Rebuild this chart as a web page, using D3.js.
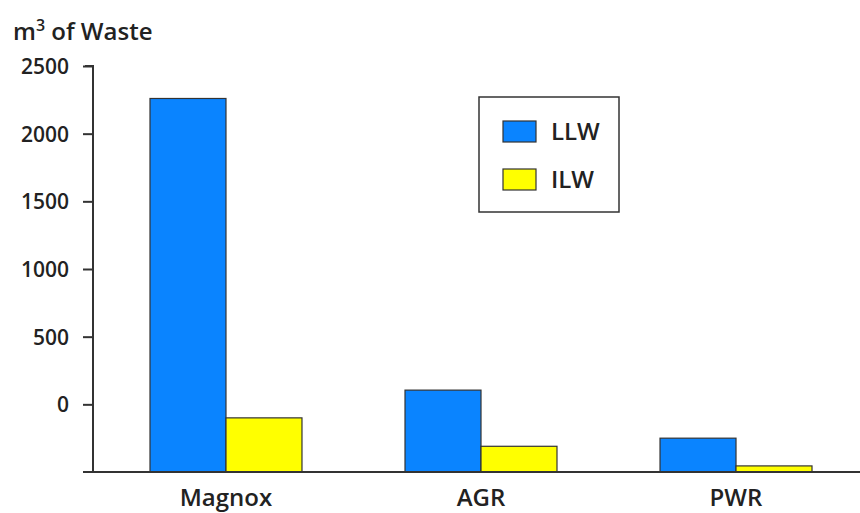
<!DOCTYPE html>
<html>
<head>
<meta charset="utf-8">
<script src="https://cdn.jsdelivr.net/npm/d3@7/dist/d3.min.js"></script>
<style>
  html, body { margin: 0; padding: 0; background: #fff; }
  svg { display: block; font-family: "Open Sans", "Noto Sans", sans-serif; }
</style>
</head>
<body>
<svg id="chart" width="860" height="513"></svg>
<script>
// ---- data ----
const categories = ["Magnox", "AGR", "PWR"];
const seriesNames = ["LLW", "ILW"];
const llwValues = [2260, 105, -250];
const ilwValues = [-100, -310, -455];
const tickValues = [0, 500, 1000, 1500, 2000, 2500];
const colors = ["#0a84ff", "#ffff00"];

const svg = d3.select("#chart");
const W = 860, H = 513;
const axisX = 93, yTop = 66, yBottom = 472;

const y = d3.scaleLinear().domain([-500, 2500]).range([yBottom, yTop]);
const x0 = d3.scaleBand().domain(categories).range([axisX, 869])
  .paddingInner(0.404).paddingOuter(0.2235);
const x1 = d3.scaleBand().domain(seriesNames).range([0, x0.bandwidth()]);

const rows = categories.map((c, i) => ({ cat: c, vals: [llwValues[i], ilwValues[i]] }));

// bars
const g = svg.append("g");
rows.forEach(r => {
  r.vals.forEach((v, j) => {
    g.append("rect")
      .attr("x", x0(r.cat) + x1(seriesNames[j]))
      .attr("y", y(v))
      .attr("width", x1.bandwidth())
      .attr("height", y.range()[0] - y(v))
      .attr("fill", colors[j])
      .attr("stroke", "#333")
      .attr("stroke-width", 1.2);
  });
});

// y axis
const yAxis = d3.axisLeft(y).tickValues(tickValues).tickSize(10).tickPadding(14)
  .tickFormat(d3.format("d"));
const ya = svg.append("g").attr("transform", `translate(${axisX},0)`).call(yAxis);
ya.attr("font-family", null).attr("font-size", null);
ya.select(".domain").remove();
ya.selectAll(".tick line").attr("stroke", "#333").attr("stroke-width", 2);
ya.selectAll(".tick text").attr("fill", "#222")
  .style("font-family", "'Open Sans', 'Noto Sans', sans-serif")
  .style("font-size", "21px").style("font-weight", 600).attr("dy", "0.35em");
svg.append("line").attr("x1", axisX).attr("x2", axisX).attr("y1", yTop - 1).attr("y2", yBottom + 1)
  .attr("stroke", "#333").attr("stroke-width", 2);
svg.append("line").attr("x1", axisX - 8).attr("x2", axisX).attr("y1", yTop).attr("y2", yTop)
  .attr("stroke", "#333").attr("stroke-width", 2);
// baseline
svg.append("line").attr("x1", axisX - 10).attr("x2", W).attr("y1", yBottom).attr("y2", yBottom)
  .attr("stroke", "#333").attr("stroke-width", 2);

// x labels
svg.selectAll(".xl").data(categories).enter().append("text")
  .attr("x", d => x0(d) + x0.bandwidth() / 2)
  .attr("y", 506)
  .attr("text-anchor", "middle")
  .attr("fill", "#222")
  .style("font-size", "24px").style("font-weight", 600)
  .text(d => d);

// y title
const t = svg.append("text").attr("x", 13).attr("y", 40).attr("fill", "#222")
  .style("font-size", "24px").style("font-weight", 600);
t.append("tspan").text("m");
t.append("tspan").attr("dy", -9).style("font-size", "16px").text("3");
t.append("tspan").attr("dy", 9).text(" of Waste");

// legend
const lg = svg.append("g");
lg.append("rect").attr("x", 479).attr("y", 97).attr("width", 140).attr("height", 115)
  .attr("fill", "#fff").attr("stroke", "#333").attr("stroke-width", 1.5);
seriesNames.forEach((s, i) => {
  const yy = 121 + i * 48;
  lg.append("rect").attr("x", 503).attr("y", yy).attr("width", 33).attr("height", 21)
    .attr("fill", colors[i]).attr("stroke", "#333").attr("stroke-width", 1.2);
  lg.append("text").attr("x", 551).attr("y", yy + 19).attr("fill", "#222")
    .style("font-size", "24px").style("font-weight", 600).text(s);
});
</script>
</body>
</html>
